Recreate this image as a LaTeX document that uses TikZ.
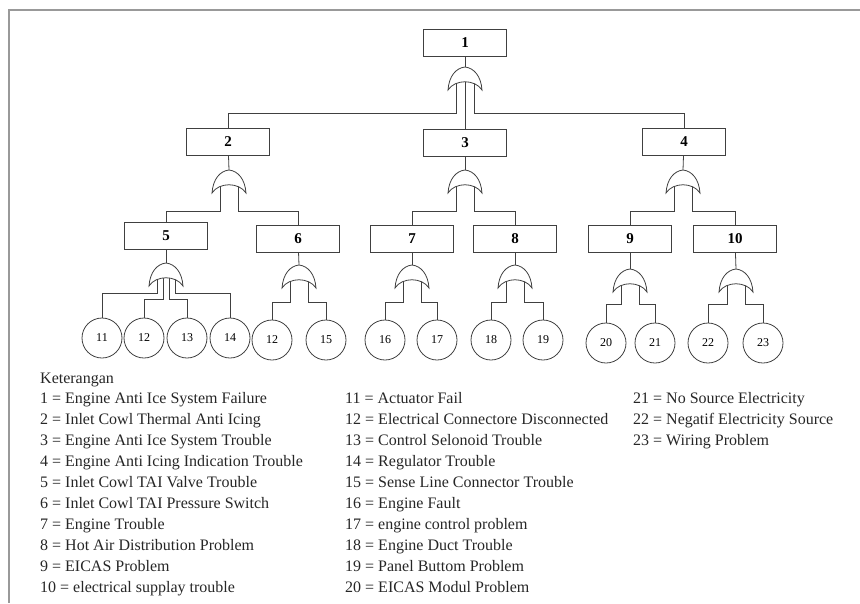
\documentclass[tikz,border=0pt]{standalone}
\usepackage{fontspec}
\setmainfont{Liberation Serif}
\usetikzlibrary{backgrounds}
\begin{document}
\begin{tikzpicture}[x=1pt,y=-1pt,
  box/.style={draw=black!75, line width=0.8pt, minimum width=83pt, minimum height=27pt, inner sep=0pt, font=\fontsize{15}{15}\selectfont\bfseries},
  evt/.style={circle, draw=black!75, line width=0.8pt, minimum size=40pt, inner sep=0pt, font=\fontsize{12}{12}\selectfont},
  leg/.style={anchor=west, inner sep=0pt, text height=11pt, text depth=3pt, font=\fontsize{16}{16}\selectfont, text=black!85},
  wire/.style={draw=black!75, line width=0.8pt},
  frameline/.style={draw=black!40, line width=1.5pt},
  orgate/.pic={
    \draw[draw=black!75, line width=0.8pt, fill=white] (0,0) .. controls (9,1) and (16,9) .. (17,23)
      .. controls (10,12) and (-10,12) .. (-17,23)
      .. controls (-16,9) and (-9,1) .. (0,0) -- cycle;
    \coordinate (-top) at (0,0);
    \coordinate (-l) at (-9,12);
    \coordinate (-r) at (9,12);
    \coordinate (-c) at (0,12);
    \coordinate (-l2) at (-3,12);
    \coordinate (-r2) at (3,12);
  }]
\path[use as bounding box] (0,0) rectangle (860,603);
\draw[frameline] (8,10) -- (860,10);
\draw[frameline] (9,10) -- (9,603);

% boxes
\node[box] (b1) at (465,42.5) {1};
\node[box] (b2) at (228,141.5) {2};
\node[box] (b3) at (465,142.5) {3};
\node[box] (b4) at (684,141.5) {4};
\node[box] (b5) at (166,236) {5};
\node[box] (b6) at (298,238.5) {6};
\node[box] (b7) at (412,238.5) {7};
\node[box] (b8) at (515,238.5) {8};
\node[box] (b9) at (630,239) {9};
\node[box] (b10) at (735,239) {10};

% basic events
\node[evt] (c11) at (102,338) {11};
\node[evt] (c12a) at (144,338) {12};
\node[evt] (c13) at (187,338) {13};
\node[evt] (c14) at (230,338) {14};
\node[evt] (c12b) at (272,340) {12};
\node[evt] (c15) at (326,340) {15};
\node[evt] (c16) at (385,340) {16};
\node[evt] (c17) at (437,340) {17};
\node[evt] (c18) at (491,340) {18};
\node[evt] (c19) at (543,340) {19};
\node[evt] (c20) at (606,343) {20};
\node[evt] (c21) at (655,343) {21};
\node[evt] (c22) at (708,343) {22};
\node[evt] (c23) at (763,343) {23};

% gates
\pic (g1) at (465,67) {orgate};
\pic (g2) at (229,170) {orgate};
\pic (g3) at (465,170) {orgate};
\pic (g4) at (683,170) {orgate};
\pic (g5) at (166,263) {orgate};
\pic (g6) at (299,265) {orgate};
\pic (g7) at (412,265) {orgate};
\pic (g8) at (515,265) {orgate};
\pic (g9) at (630,269) {orgate};
\pic (g10) at (736,269) {orgate};

% level helpers
\coordinate (h1) at (0,113);
\coordinate (h2) at (0,211);
\coordinate (h3) at (0,302);
\coordinate (h3o) at (0,293);
\coordinate (h3i) at (0,299);
\coordinate (h4) at (0,304);

\begin{scope}[on background layer]
\draw[wire] (b1) -- (g1-top);
\draw[wire] (g1-l) -- (g1-l |- h1) -| (b2);
\draw[wire] (g1-c) -- (g1-c |- b3.north);
\draw[wire] (g1-r) -- (g1-r |- h1) -| (b4);

\draw[wire] (b2) -- (g2-top);
\draw[wire] (b3) -- (g3-top);
\draw[wire] (b4) -- (g4-top);
\draw[wire] (g2-l) -- (g2-l |- h2) -| (b5);
\draw[wire] (g2-r) -- (g2-r |- h2) -| (b6);
\draw[wire] (g3-l) -- (g3-l |- h2) -| (b7);
\draw[wire] (g3-r) -- (g3-r |- h2) -| (b8);
\draw[wire] (g4-l) -- (g4-l |- h2) -| (b9);
\draw[wire] (g4-r) -- (g4-r |- h2) -| (b10);

\draw[wire] (b5) -- (g5-top);
\draw[wire] (b6) -- (g6-top);
\draw[wire] (b7) -- (g7-top);
\draw[wire] (b8) -- (g8-top);
\draw[wire] (b9) -- (g9-top);
\draw[wire] (b10) -- (g10-top);

\draw[wire] (g5-l) -- (g5-l |- h3o) -| (c11);
\draw[wire] (g5-l2) -- (g5-l2 |- h3i) -| (c12a);
\draw[wire] (g5-r2) -- (g5-r2 |- h3i) -| (c13);
\draw[wire] (g5-r) -- (g5-r |- h3o) -| (c14);
\draw[wire] (g6-l) -- (g6-l |- h3) -| (c12b);
\draw[wire] (g6-r) -- (g6-r |- h3) -| (c15);
\draw[wire] (g7-l) -- (g7-l |- h3) -| (c16);
\draw[wire] (g7-r) -- (g7-r |- h3) -| (c17);
\draw[wire] (g8-l) -- (g8-l |- h3) -| (c18);
\draw[wire] (g8-r) -- (g8-r |- h3) -| (c19);
\draw[wire] (g9-l) -- (g9-l |- h4) -| (c20);
\draw[wire] (g9-r) -- (g9-r |- h4) -| (c21);
\draw[wire] (g10-l) -- (g10-l |- h4) -| (c22);
\draw[wire] (g10-r) -- (g10-r |- h4) -| (c23);
\end{scope}

% legend
\node[leg] (l0) at (40,379) {Keterangan};
\node[leg] (l1) at (40,399) {1 = Engine Anti Ice System Failure};
\node[leg] (l2) at (40,420) {2 = Inlet Cowl Thermal Anti Icing};
\node[leg] (l3) at (40,441) {3 = Engine Anti Ice System Trouble};
\node[leg] (l4) at (40,462) {4 = Engine Anti Icing Indication Trouble};
\node[leg] (l5) at (40,483) {5 = Inlet Cowl TAI Valve Trouble};
\node[leg] (l6) at (40,504) {6 = Inlet Cowl TAI Pressure Switch};
\node[leg] (l7) at (40,525) {7 = Engine Trouble};
\node[leg] (l8) at (40,546) {8 = Hot Air Distribution Problem};
\node[leg] (l9) at (40,567) {9 = EICAS Problem};
\node[leg] (l10) at (40,588) {10 = electrical supplay trouble};

\node[leg] (l11) at (345,399) {11 = Actuator Fail};
\node[leg] (l12) at (345,420) {12 = Electrical Connectore Disconnected};
\node[leg] (l13) at (345,441) {13 = Control Selonoid Trouble};
\node[leg] (l14) at (345,462) {14 = Regulator Trouble};
\node[leg] (l15) at (345,483) {15 = Sense Line Connector Trouble};
\node[leg] (l16) at (345,504) {16 = Engine Fault};
\node[leg] (l17) at (345,525) {17 = engine control problem};
\node[leg] (l18) at (345,546) {18 = Engine Duct Trouble};
\node[leg] (l19) at (345,567) {19 = Panel Buttom Problem};
\node[leg] (l20) at (345,588) {20 = EICAS Modul Problem};

\node[leg] (l21) at (633,399) {21 = No Source Electricity};
\node[leg] (l22) at (633,420) {22 = Negatif Electricity Source};
\node[leg] (l23) at (633,441) {23 = Wiring Problem};
\end{tikzpicture}
\end{document}
